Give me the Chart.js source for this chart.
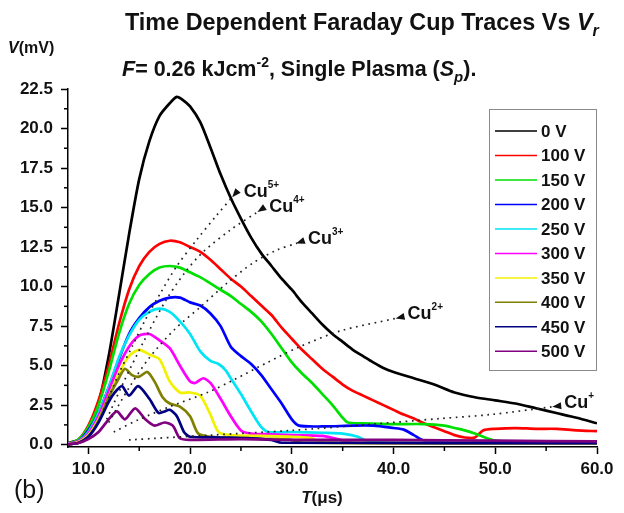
<!DOCTYPE html>
<html><head><meta charset="utf-8">
<script src="https://cdn.jsdelivr.net/npm/chart.js@4.4.1/dist/chart.umd.min.js"></script>
<style>html,body{margin:0;padding:0;background:#fff;}#wrap{width:624px;height:513px;}</style>
</head><body><div id="wrap"><canvas id="c" width="624" height="513"></canvas></div>
<script>
// ---------- data ----------
const seriesLabels = ['0 V','100 V','150 V','200 V','250 V','300 V','350 V','400 V','450 V','500 V'];

const trace0V = [[8,0.1],[9,0.3],[10,1.0],[11,2.6],[12,5.6],[13,9.4],[14,13.3],[15,16.8],[16,19.2],[17,20.8],[18,21.6],[18.7,22.0],[19.3,21.8],[20,21.4],[21,20.4],[22,18.8],[23,17.1],[24,15.6],[25,14.3],[26,13.1],[27,12.1],[28,11.3],[29,10.5],[30,9.8],[31,9.0],[32,8.3],[33,7.6],[34,7.0],[35,6.5],[36,6.0],[37,5.6],[38,5.2],[39,4.85],[40,4.6],[42,4.2],[44,3.8],[46,3.3],[48,3.0],[50,2.8],[52,2.6],[54,2.3],[56,2.0],[58,1.7],[60,1.35]];
const trace100V = [[8,0.05],[9,0.3],[10,1.2],[11,2.8],[12,5.0],[13,7.6],[14,9.8],[15,11.3],[16,12.2],[17,12.7],[18,12.9],[19,12.8],[20,12.5],[21,12.2],[22,11.7],[23,11.1],[24,10.5],[25,10.0],[26,9.4],[27,8.8],[28,8.2],[29,7.4],[30,6.7],[31,6.0],[32,5.4],[33,4.8],[34,4.3],[35,3.8],[36,3.4],[37,3.1],[38,2.8],[39,2.5],[40,2.2],[41,1.9],[42,1.65],[43,1.35],[44,1.1],[45,0.85],[46,0.6],[47,0.45],[48,0.45],[48.8,0.9],[50,1.0],[52,1.05],[54,1.0],[56,1.0],[58,0.9],[60,0.85]];
const trace150V = [[8,0.05],[9,0.3],[10,1.1],[11,2.5],[12,4.6],[13,7.0],[14,8.9],[15,10.1],[16,10.8],[17,11.2],[18,11.3],[19,11.2],[20,10.9],[21,10.6],[22,10.2],[23,9.8],[24,9.4],[25,8.9],[26,8.4],[27,7.8],[28,7.0],[29,6.1],[30,5.2],[31,4.5],[32,3.9],[33,3.2],[34,2.5],[35,1.7],[35.5,1.4],[37,1.35],[40,1.3],[43,1.3],[45,1.2],[46,1.05],[47,0.9],[48,0.7],[49,0.45],[50,0.25],[52,0.15],[56,0.12],[60,0.1]];
const trace200V = [[8,0.05],[9,0.2],[10,0.9],[11,2.0],[12,3.6],[13,5.4],[14,7.0],[15,8.0],[16,8.7],[17,9.1],[18,9.3],[19,9.3],[20,9.0],[21,8.8],[22,8.3],[23,7.5],[24,6.2],[25,5.6],[26,5.1],[27,4.4],[28,3.5],[29,2.6],[30,1.6],[30.7,1.2],[33,1.15],[36,1.2],[38,1.2],[40,1.05],[41,0.95],[42,0.6],[43,0.25],[45,0.15],[50,0.12],[60,0.1]];
const trace250V = [[8,0.05],[9,0.2],[10,0.8],[11,2.0],[12,3.6],[13,5.5],[14,6.9],[15,7.9],[16,8.4],[17,8.6],[18,8.4],[19,7.8],[20,7.0],[21,5.9],[22,5.3],[22.8,5.1],[23.5,4.7],[24,4.2],[25,3.2],[26,2.1],[27,1.1],[27.7,0.8],[30,0.8],[33,0.75],[35,0.7],[36.5,0.5],[37.5,0.2],[40,0.12],[60,0.1]];
const trace300V = [[8,0.05],[9,0.2],[10,0.7],[11,1.8],[12,3.4],[13,5.0],[14,6.2],[15,6.9],[16,7.0],[17,6.6],[18,6.1],[19,5.0],[20,4.0],[20.5,3.9],[21.3,4.2],[22,3.9],[23,2.9],[24,1.8],[25,0.9],[26,0.7],[28,0.65],[30,0.6],[33,0.55],[34.5,0.35],[36,0.12],[60,0.1]];
const trace350V = [[8,0.02],[9,0.15],[10,0.6],[11,1.6],[12,3.0],[13,4.5],[14,5.6],[15,6.0],[16,5.7],[17,5.4],[18,4.0],[19,3.3],[20,3.3],[21,3.1],[22,1.9],[22.8,0.8],[24,0.6],[27,0.55],[30,0.5],[32,0.4],[33,0.12],[60,0.1]];
const trace400V = [[8,0.02],[9,0.1],[10,0.5],[11,1.5],[12,3.0],[13,4.2],[13.6,4.8],[14.3,4.4],[15,4.3],[15.8,4.6],[16.5,4.0],[17.3,3.0],[18,2.6],[19,2.4],[20,1.8],[20.8,0.7],[22,0.5],[25,0.4],[28,0.35],[30,0.3],[31,0.12],[60,0.1]];
const trace450V = [[8,0.02],[9,0.1],[10,0.5],[11,1.4],[12,2.7],[12.6,3.3],[13.3,3.7],[14,3.1],[14.9,3.7],[16,2.9],[16.9,2.0],[17.5,2.1],[18,2.2],[18.7,1.8],[19.4,0.8],[20,0.5],[23,0.45],[26,0.4],[28,0.3],[29,0.12],[60,0.1]];
const trace500V = [[8,0.02],[9,0.1],[10,0.35],[11,0.8],[12,1.6],[12.8,2.1],[13.6,1.6],[14.6,2.3],[15.6,1.6],[16.5,1.2],[17.5,1.4],[18.3,1.2],[19,0.4],[20,0.3],[25,0.35],[30,0.3],[40,0.3],[50,0.25],[60,0.2]];

const xMajorTicks = [10,20,30,40,50,60];
const xMinorTicks = [15,25,35,45,55];
const yMajorTicks = [0,2.5,5,7.5,10,12.5,15,17.5,20,22.5];
const yMinorTicks = [1.25,3.75,6.25,8.75,11.25,13.75,16.25,18.75,21.25];

// dotted guide lines for ion species (last point = arrow tip)
const ionNames = ['Cu','Cu','Cu','Cu','Cu'];
const ionCharges = ['5+','4+','3+','2+','+'];
const cu5Path = [[11.5,2.2],[13.0,4.5],[14.3,6.2],[15.6,7.9],[17.1,9.6],[18.7,11.3],[20.7,13.0],[22.6,14.5],[24.2,15.7]];
const cu4Path = [[11.8,1.6],[13.5,4.0],[15.5,6.6],[17.5,9.0],[19.5,10.9],[21.3,12.2],[24.0,13.6],[26.7,14.75]];
const cu3Path = [[12.0,1.4],[14.0,3.6],[16.0,5.5],[18.5,7.3],[21.0,8.7],[23.6,10.2],[26.2,11.5],[28.5,12.3],[30.5,12.75]];
const cu2Path = [[12.5,0.8],[15.0,1.6],[18.0,2.4],[21.7,3.3],[24.3,4.1],[27.6,5.2],[30.8,6.2],[34.8,7.2],[40.3,8.0]];
const cu1Path = [[14,0.3],[22,0.6],[30,0.9],[38,1.3],[44.6,1.65],[49.5,1.9],[55.7,2.4]];

// ---------- styles ----------
const seriesColors = ['#000000','#ff0000','#00e000','#0000ff','#00e5f5','#ff00ff','#f2f200','#808000','#000080','#800080'];
const FONT = '"Liberation Sans", Arial, sans-serif';

const traces = [trace0V,trace100V,trace150V,trace200V,trace250V,trace300V,trace350V,trace400V,trace450V,trace500V];
const ionPaths = [cu5Path,cu4Path,cu3Path,cu2Path,cu1Path];
const toXY = arr => arr.map(([x,y]) => ({x, y}));

const datasets = traces.map((tr, i) => ({
  label: seriesLabels[i],
  data: toXY(tr),
  borderColor: seriesColors[i],
  borderWidth: 2.7,
  pointRadius: 0,
  tension: 0.25,
  fill: false,
  order: 20 - i
}));
ionPaths.forEach((p, i) => datasets.push({
  label: 'ion' + i,
  data: toXY(p),
  borderColor: '#222',
  borderWidth: 1.7,
  borderDash: [1.7, 4.6],
  pointRadius: 0,
  tension: 0.3,
  fill: false,
  order: 0
}));

function drawRich(ctx, parts, x, y, align) {
  let w = 0;
  parts.forEach(p => { ctx.font = p.f; w += ctx.measureText(p.t).width; });
  let cx = align === 'center' ? x - w / 2 : x;
  ctx.textAlign = 'left';
  ctx.textBaseline = 'alphabetic';
  parts.forEach(p => {
    ctx.font = p.f;
    ctx.fillText(p.t, cx, y + (p.dy || 0));
    cx += ctx.measureText(p.t).width;
  });
}

const decor = {
  id: 'decor',
  afterDatasetsDraw(chart) {
    const ctx = chart.ctx, xs = chart.scales.x, ys = chart.scales.y;
    ctx.save();
    ctx.fillStyle = '#111';
    ionPaths.forEach((p, i) => {
      const a = p[p.length - 1], b = p[p.length - 2];
      const ax = xs.getPixelForValue(a[0]), ay = ys.getPixelForValue(a[1]);
      const bx = xs.getPixelForValue(b[0]), by = ys.getPixelForValue(b[1]);
      let dx = bx - ax, dy = by - ay; const L = Math.hypot(dx, dy); dx /= L; dy /= L;
      const tipX = ax + dx * 1, tipY = ay + dy * 1;
      const baseX = ax - dx * 8, baseY = ay - dy * 8;
      ctx.beginPath();
      ctx.moveTo(tipX, tipY);
      ctx.lineTo(baseX - dy * 3.5, baseY + dx * 3.5);
      ctx.lineTo(baseX + dy * 3.5, baseY - dx * 3.5);
      ctx.closePath();
      ctx.fill();
      drawRich(ctx, [
        {t: ionNames[i], f: 'bold 18px ' + FONT},
        {t: ionCharges[i], f: 'bold 10px ' + FONT, dy: -9}
      ], ax + 11, ay + 1);
    });
    ctx.restore();
  },
  afterDraw(chart) {
    const ctx = chart.ctx, xs = chart.scales.x, ys = chart.scales.y, ca = chart.chartArea;
    ctx.save();
    ctx.strokeStyle = '#000';
    ctx.lineWidth = 1.5;
    xMinorTicks.forEach(v => {
      const px = xs.getPixelForValue(v);
      ctx.beginPath(); ctx.moveTo(px, ca.bottom); ctx.lineTo(px, ca.bottom + 4); ctx.stroke();
    });
    yMinorTicks.forEach(v => {
      const py = ys.getPixelForValue(v);
      ctx.beginPath(); ctx.moveTo(ca.left, py); ctx.lineTo(ca.left - 4, py); ctx.stroke();
    });
    ctx.fillStyle = '#111';
    drawRich(ctx, [
      {t: 'Time Dependent Faraday Cup Traces Vs ', f: 'bold 23.4px ' + FONT},
      {t: 'V', f: 'italic bold 23.4px ' + FONT},
      {t: 'r', f: 'italic bold 16px ' + FONT, dy: 6}
    ], 125, 30);
    drawRich(ctx, [
      {t: 'F', f: 'italic bold 21.5px ' + FONT},
      {t: '= 0.26 kJcm', f: 'bold 21.5px ' + FONT},
      {t: '-2', f: 'bold 14px ' + FONT, dy: -9},
      {t: ', Single Plasma (', f: 'bold 21.5px ' + FONT},
      {t: 'S', f: 'italic bold 21.5px ' + FONT},
      {t: 'p', f: 'italic bold 15px ' + FONT, dy: 6},
      {t: ').', f: 'bold 21.5px ' + FONT}
    ], 122, 76);
    drawRich(ctx, [
      {t: 'V', f: 'italic bold 16px ' + FONT},
      {t: '(mV)', f: 'bold 16px ' + FONT}
    ], 8, 53);
    drawRich(ctx, [
      {t: 'T', f: 'italic bold 17px ' + FONT},
      {t: '(\u03bcs)', f: 'bold 17px ' + FONT}
    ], 322, 503, 'center');
    drawRich(ctx, [{t: '(b)', f: '25px ' + FONT}], 14, 498);
    ctx.lineWidth = 1;
    ctx.strokeStyle = '#8a8a8a';
    ctx.strokeRect(489.5, 109.5, 107, 261);
    seriesLabels.forEach((lab, i) => {
      const y = 131 + i * 24.48;
      ctx.strokeStyle = seriesColors[i];
      ctx.lineWidth = 1.5;
      ctx.beginPath(); ctx.moveTo(495, y); ctx.lineTo(537, y); ctx.stroke();
      ctx.fillStyle = '#111';
      ctx.font = 'bold 17px ' + FONT;
      ctx.textAlign = 'left';
      ctx.textBaseline = 'middle';
      ctx.fillText(lab, 541, y + 1);
    });
    ctx.restore();
  }
};

new Chart(document.getElementById('c'), {
  type: 'line',
  data: { datasets },
  options: {
    responsive: false,
    devicePixelRatio: 1,
    animation: false,
    layout: { padding: { top: 89, right: 27, left: 0, bottom: 0 } },
    plugins: { legend: { display: false }, tooltip: { enabled: false }, title: { display: false } },
    scales: {
      x: {
        type: 'linear', min: 8, max: 60,
        afterBuildTicks: s => { s.ticks = xMajorTicks.map(v => ({ value: v })); },
        afterFit: s => { s.height = 66; },
        ticks: { callback: v => v.toFixed(1), color: '#111', padding: 5, maxRotation: 0,
                 font: { family: FONT, size: 17, weight: 'bold' } },
        grid: { drawOnChartArea: false, tickLength: 7, tickColor: '#000', tickWidth: 1.5 },
        border: { color: '#000', width: 1.5 }
      },
      y: {
        type: 'linear', min: -0.15, max: 22.5,
        afterBuildTicks: s => { s.ticks = yMajorTicks.map(v => ({ value: v })); },
        afterFit: s => { s.width = 68; },
        ticks: { callback: v => v.toFixed(1), color: '#111', padding: 8,
                 font: { family: FONT, size: 17, weight: 'bold' } },
        grid: { drawOnChartArea: false, tickLength: 7, tickColor: '#000', tickWidth: 1.5 },
        border: { color: '#000', width: 1.5 }
      }
    }
  },
  plugins: [decor]
});
</script>
</body></html>
